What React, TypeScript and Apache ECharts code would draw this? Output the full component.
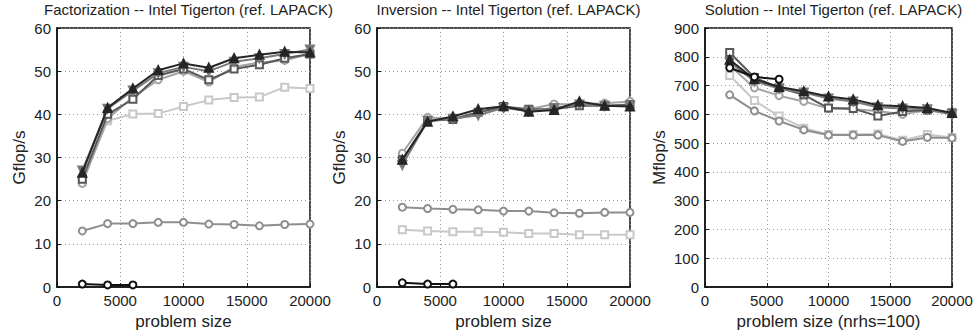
import React, { useEffect, useRef } from "react";
import * as echarts from "echarts";

const sizes = [2000, 4000, 6000, 8000, 10000, 12000, 14000, 16000, 18000, 20000];
const smallSizes = [2000, 4000, 6000];

const titles = [
  "Factorization -- Intel Tigerton (ref. LAPACK)",
  "Inversion -- Intel Tigerton (ref. LAPACK)",
  "Solution -- Intel Tigerton (ref. LAPACK)",
];
const xNames = ["problem size", "problem size", "problem size (nrhs=100)"];
const yNames = ["Gflop/s", "Gflop/s", "Mflop/s"];
const yMax = [60, 60, 900];
const yStep = [10, 10, 100];

// Factorization (Gflop/s)
const factTriUp = [26.5, 41.5, 46.0, 50.2, 51.8, 50.8, 53.0, 53.8, 54.5, 54.3];
const factTriDown = [27.0, 41.3, 45.5, 49.5, 51.0, 50.0, 52.2, 53.0, 54.0, 55.0];
const factSquareDark = [25.0, 40.0, 43.5, 49.0, 50.5, 48.0, 50.5, 51.5, 53.0, 54.0];
const factCircleGray = [24.0, 39.0, 44.0, 48.0, 50.0, 47.5, 51.0, 52.0, 52.5, 54.0];
const factSquareLight = [24.5, 38.5, 40.1, 40.2, 41.8, 43.3, 43.9, 44.0, 46.3, 46.0];
const factCircleLow = [13.0, 14.7, 14.7, 15.0, 15.0, 14.6, 14.5, 14.2, 14.5, 14.6];
const factBlack = [0.7, 0.5, 0.5];

// Inversion (Gflop/s)
const invTriUp = [29.5, 38.3, 39.5, 41.2, 41.9, 40.6, 41.0, 43.0, 42.0, 41.8];
const invTriDown = [28.3, 38.5, 39.0, 39.8, 41.5, 40.8, 41.5, 42.3, 42.0, 42.0];
const invSquareDark = [29.5, 38.5, 38.8, 40.5, 41.8, 41.2, 41.2, 42.0, 42.0, 42.3];
const invCircleGray = [31.0, 39.3, 39.0, 40.5, 41.5, 41.2, 42.4, 42.3, 42.6, 43.0];
const invSquareLight = [13.3, 13.0, 12.8, 12.8, 12.7, 12.4, 12.4, 12.1, 12.1, 12.1];
const invCircleLow = [18.5, 18.2, 18.0, 17.9, 17.6, 17.6, 17.2, 17.1, 17.3, 17.3];
const invBlack = [1.0, 0.7, 0.7];

// Solution (Mflop/s)
const solTriUp = [790, 722, 695, 680, 662, 652, 632, 628, 622, 605];
const solTriDown = [782, 715, 690, 676, 655, 645, 625, 620, 618, 600];
const solSquareDark = [815, 728, 692, 668, 622, 620, 594, 610, 615, 606];
const solCircleGray = [770, 692, 665, 645, 620, 618, 612, 600, 614, 600];
const solSquareLight = [735, 648, 594, 552, 530, 530, 532, 510, 530, 520];
const solCircleLow = [668, 612, 577, 546, 528, 528, 528, 506, 520, 518];
const solBlack = [762, 730, 722];

const panels = [
  [factSquareLight, factCircleLow, factCircleGray, factSquareDark, factTriDown, factTriUp, factBlack],
  [invSquareLight, invCircleLow, invCircleGray, invSquareDark, invTriDown, invTriUp, invBlack],
  [solSquareLight, solCircleLow, solCircleGray, solSquareDark, solTriDown, solTriUp, solBlack],
];

const styles = [
  { color: "#c8c8c8", symbol: "emptyRect", rotate: 0, size: 7 },
  { color: "#8e8e8e", symbol: "emptyCircle", rotate: 0, size: 7 },
  { color: "#a4a4a4", symbol: "emptyCircle", rotate: 0, size: 7 },
  { color: "#585858", symbol: "emptyRect", rotate: 0, size: 7 },
  { color: "#7a7a7a", symbol: "triangle", rotate: 180, size: 8 },
  { color: "#262626", symbol: "triangle", rotate: 0, size: 8 },
  { color: "#111111", symbol: "emptyCircle", rotate: 0, size: 7 },
];

const grids = [
  { left: 57, width: 253 },
  { left: 377, width: 253 },
  { left: 705, width: 247 },
];
const yNameGap = [29, 29, 37];

export default function App() {
  const ref = useRef<HTMLDivElement>(null);
  useEffect(() => {
    if (!ref.current) return;
    const chart = echarts.init(ref.current, undefined, { renderer: "svg" });
    const font = "Liberation Sans, Arial, Helvetica, sans-serif";
    const option: any = {
      animation: false,
      backgroundColor: "#ffffff",
      title: titles.map((t, i) => ({
        text: t,
        left: grids[i].left + grids[i].width / 2,
        textAlign: "center",
        top: 0,
        padding: [2, 5, 0, 5],
        textStyle: { fontSize: 15, fontWeight: "normal", color: "#222", fontFamily: font },
      })),
      grid: grids.map((g) => ({
        left: g.left,
        width: g.width,
        top: 28,
        height: 262,
        show: true,
        borderColor: "#111",
        borderWidth: 1.5,
        backgroundColor: "transparent",
      })),
      xAxis: grids.map((g, i) => ({
        type: "value",
        gridIndex: i,
        min: 0,
        max: 20000,
        interval: 5000,
        name: xNames[i],
        nameLocation: "middle",
        nameGap: 23,
        nameTextStyle: { fontSize: 17, color: "#222", fontFamily: font },
        axisLine: { show: true, lineStyle: { color: "#111", width: 1.5 } },
        axisTick: { show: true, inside: true, length: 4, lineStyle: { color: "#111" } },
        axisLabel: {
          fontSize: 15,
          color: "#222",
          margin: 6,
          fontFamily: font,
          formatter: (v: number) => String(v),
        },
        splitLine: { show: true, lineStyle: { color: "#999", type: [1, 3], width: 1 } },
      })),
      yAxis: grids.map((g, i) => ({
        type: "value",
        gridIndex: i,
        min: 0,
        max: yMax[i],
        interval: yStep[i],
        name: yNames[i],
        nameLocation: "middle",
        nameGap: yNameGap[i],
        nameTextStyle: { fontSize: 17, color: "#222", fontFamily: font },
        axisLine: { show: true, lineStyle: { color: "#111", width: 1.5 } },
        axisTick: { show: true, inside: true, length: 4, lineStyle: { color: "#111" } },
        axisLabel: {
          fontSize: 15,
          color: "#222",
          margin: 6,
          fontFamily: font,
          formatter: (v: number) => String(v),
        },
        splitLine: { show: true, lineStyle: { color: "#999", type: [1, 3], width: 1 } },
      })),
      series: panels.flatMap((panel, pi) =>
        panel.map((vals, si) => {
          const st = styles[si];
          const xs = vals.length === 3 ? smallSizes : sizes;
          return {
            type: "line",
            xAxisIndex: pi,
            yAxisIndex: pi,
            data: vals.map((v, k) => [xs[k], v]),
            symbol: st.symbol,
            symbolSize: st.size,
            symbolRotate: st.rotate,
            showAllSymbol: true,
            lineStyle: { color: st.color, width: 2 },
            itemStyle: { color: st.color, borderColor: st.color, borderWidth: 2 },
            z: 2 + si,
          };
        })
      ),
    };
    chart.setOption(option);
    return () => chart.dispose();
  }, []);
  return (
    <div
      ref={ref}
      style={{ position: "fixed", left: 0, top: 0, width: 977, height: 335 }}
    />
  );
}
